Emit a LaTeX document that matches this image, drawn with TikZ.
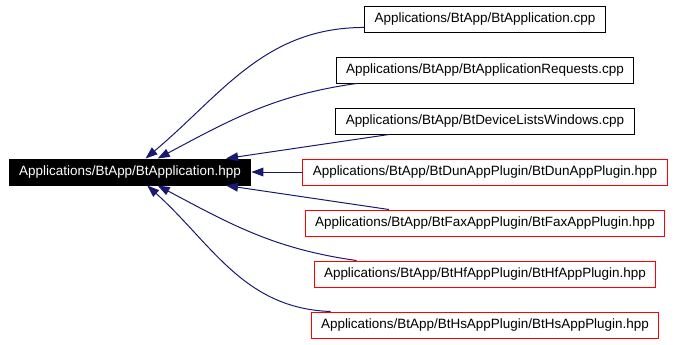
\documentclass[tikz,border=0pt]{standalone}
\usepackage{fontspec}
\setmainfont{Liberation Sans}
\usetikzlibrary{positioning, arrows.meta}

\definecolor{midnight}{HTML}{191970}
\definecolor{nodoc}{HTML}{FF0000}

\begin{document}
\begin{tikzpicture}[x=0.75pt, y=-0.75pt,
        file/.style={draw, line width=0.75pt, minimum height=19.5pt, inner xsep=7.5pt,
            font=\fontsize{10.1}{12}\selectfont},
        redfile/.style={file, color=nodoc, text=black},
        dep/.style={draw=midnight, line width=0.75pt, -{Triangle[length=9pt, width=6.5pt]}},
        node distance=18pt]
        \useasboundingbox (0,0) rectangle (675,344);

        \node[file, fill=black, text=white] (hpp) at (130,172) {Applications/BtApp/BtApplication.hpp};
        \node[redfile, right=38.25pt of hpp] (dun) {Applications/BtApp/BtDunAppPlugin/BtDunAppPlugin.hpp};
        \node[file, above=of dun] (dev) {Applications/BtApp/BtDeviceListsWindows.cpp};
        \node[file, above=of dev] (req) {Applications/BtApp/BtApplicationRequests.cpp};
        \node[file, above=of req] (cpp) {Applications/BtApp/BtApplication.cpp};
        \node[redfile, below=of dun] (fax) {Applications/BtApp/BtFaxAppPlugin/BtFaxAppPlugin.hpp};
        \node[redfile, below=of fax] (hf) {Applications/BtApp/BtHfAppPlugin/BtHfAppPlugin.hpp};
        \node[redfile, below=of hf] (hs) {Applications/BtApp/BtHsAppPlugin/BtHsAppPlugin.hpp};

        \path
            (cpp.184)  edge[dep, out=180, in=40]  (hpp.41)
            (req.186)  edge[dep, out=188, in=28]  (hpp.26)
            (dev.188)  edge[dep]                  (hpp.8)
            (dun)      edge[dep]                  (hpp)
            (fax.172)  edge[dep]                  (hpp.-8)
            (hf.174)   edge[dep, out=172, in=-28] (hpp.-26)
            (hs.175)   edge[dep, out=178, in=-42] (hpp.-38)
            ;
\end{tikzpicture}
\end{document}
